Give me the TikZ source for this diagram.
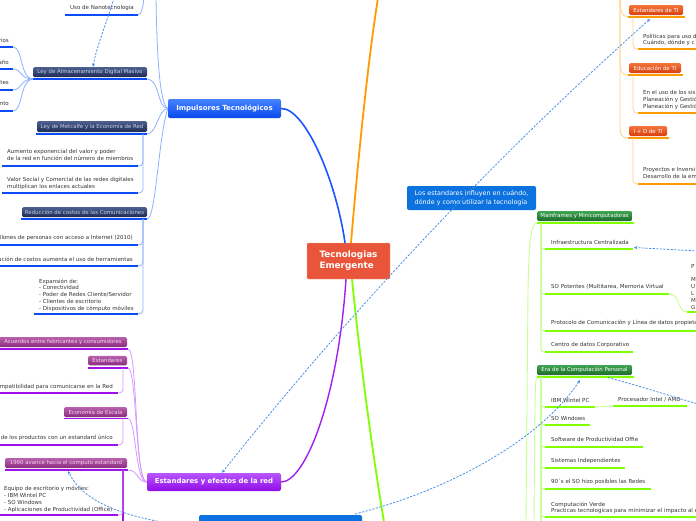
\documentclass[tikz,border=0pt]{standalone}
\usepackage{fontspec}
\setmainfont{DejaVu Sans}
\usetikzlibrary{arrows.meta}
\definecolor{txtc}{HTML}{333333}
\definecolor{cred}{HTML}{E8553A}
\definecolor{bmain}{HTML}{1A55FF}
\definecolor{blight}{HTML}{8CB0FF}
\definecolor{bulc}{HTML}{0A4CF5}
\definecolor{impT}{HTML}{4583FF}
\definecolor{impB}{HTML}{0A48EE}
\definecolor{navyT}{HTML}{4D6191}
\definecolor{navyB}{HTML}{1D2B52}
\definecolor{navyTx}{HTML}{C5CDE6}
\definecolor{omain}{HTML}{FF9A00}
\definecolor{olight}{HTML}{FFD088}
\definecolor{oT}{HTML}{F4743C}
\definecolor{oB}{HTML}{D8400E}
\definecolor{pmain}{HTML}{A01EF2}
\definecolor{plight}{HTML}{D49AFF}
\definecolor{pulc}{HTML}{A010E8}
\definecolor{estT}{HTML}{B855FF}
\definecolor{estB}{HTML}{900CE6}
\definecolor{mT}{HTML}{B861AC}
\definecolor{mB}{HTML}{8A2C7E}
\definecolor{mTx}{HTML}{F6D2F0}
\definecolor{gmain}{HTML}{80FF00}
\definecolor{glight}{HTML}{C6FF94}
\definecolor{gT}{HTML}{3FA552}
\definecolor{gB}{HTML}{1B6B2B}
\definecolor{notec}{HTML}{0B72E0}
\definecolor{dashc}{HTML}{4A90E2}
\newcommand{\mmfs}{\fontsize{5.5}{6.8}\selectfont}
\newcommand{\mmfb}{\fontsize{5.4}{6}\selectfont}
\newcommand{\mmul}[5]{\coordinate (#1-l) at (#2,#4); \coordinate (#1-r) at (#3,#4); \draw[#5] (#1-l) -- (#1-r);}
\begin{document}
\begin{tikzpicture}[x=1pt,y=-1pt,
  tx/.style={inner sep=0pt, text=txtc, font=\mmfs, anchor=west},
  txe/.style={inner sep=0pt, text=txtc, font=\mmfs, anchor=east},
  txm/.style={inner sep=0pt, text=txtc, font=\mmfs, anchor=north west, align=left},
  boxbase/.style={rounded corners=1.5pt, inner sep=0pt, font=\mmfb},
  navybox/.style={boxbase, top color=navyT, bottom color=navyB, text=navyTx},
  mauvebox/.style={boxbase, top color=mT, bottom color=mB, text=mTx},
  orangebox/.style={boxbase, top color=oT, bottom color=oB, text=white},
  greenbox/.style={boxbase, top color=gT, bottom color=gB, text=white},
  ulblue/.style={draw=bulc, line width=1.8pt},
  ulpurple/.style={draw=pulc, line width=1.8pt},
  ulorange/.style={draw=omain, line width=1.8pt},
  ulgreen/.style={draw=gmain, line width=1.8pt},
  cblue/.style={draw=blight, line width=0.8pt},
  cpurple/.style={draw=plight, line width=0.8pt},
  corange/.style={draw=olight, line width=0.8pt},
  cgreen/.style={draw=glight, line width=0.9pt},
  cgreenv/.style={draw=glight, line width=1.1pt, rounded corners=3pt},
  dashline/.style={draw=dashc, line width=0.8pt, dash pattern=on 2.2pt off 1.4pt},
  dashrel/.style={dashline, -{Stealth[length=3.5pt,width=3.2pt]}},
]
\useasboundingbox (0,0) rectangle (696,520);
\clip (0,0) rectangle (696,520);

% ---------- central node ----------
\node[draw=cred!55!white, fill=cred, rounded corners=1pt, minimum width=83pt, minimum height=36pt, inner sep=0pt, align=left, text=white, font=\bfseries\fontsize{8.8}{11}\selectfont] (root) at (348.5,261) {Tecnologias\\Emergente};

% ---------- main branches ----------
\node[boxbase, top color=impT, bottom color=impB, text=white, font=\bfseries\fontsize{7}{8}\selectfont, minimum width=113pt, minimum height=19pt, rounded corners=2pt] (imp) at (224.5,108.5) {Impulsores Tecnológicos};
\node[boxbase, top color=estT, bottom color=estB, text=white, font=\bfseries\fontsize{6.9}{8}\selectfont, minimum width=134pt, minimum height=18pt, rounded corners=2pt] (est) at (214,482) {Estandares y efectos de la red};
\coordinate (oUp) at (378,-2);
\coordinate (gDown) at (384,522);
\draw[line width=1.6pt, draw=bmain] (imp.east) .. controls (305,108) and (336,180) .. ([xshift=-3.5pt]root.north);
\draw[line width=1.8pt, draw=omain] ([xshift=2.5pt]root.north) .. controls (358,160) and (368,60) .. (oUp);
\draw[line width=1.4pt, draw=pmain] ([xshift=-2.5pt]root.south) .. controls (338,400) and (305,482) .. (est.east);
\draw[line width=1.8pt, draw=gmain] ([xshift=3.5pt]root.south) .. controls (360,360) and (372,450) .. (gDown);

% ---------- blue (Impulsores) ----------
\coordinate (impUp) at (156,-2);
\draw[cblue] (imp.west) .. controls (160,104) and (157,60) .. (impUp);
\node[tx] (nano) at (70,8) {Uso de Nanotecnologia};
\mmul{nanoU}{65}{138}{15}{ulblue}
\coordinate (nanoUp) at (144,-2);
\draw[cblue] (nanoU-r) .. controls (142,14) and (143,6) .. (nanoUp);

\node[navybox, minimum width=114pt, minimum height=10pt] (lam) at (90,72) {Ley de Almacenamiento Digital Masivo};
\mmul{lamU}{33}{147}{79}{ulblue}
\draw[cblue] (lamU-r) .. controls (160,79) and (157,108) .. (imp.west);
\node[txe] (l1t) at (9,40) {rios};
\node[txe] (l2t) at (9,62) {año};
\node[txe] (l3t) at (9,83) {tes};
\node[txe] (l4t) at (9,104) {nto};
\mmul{l1U}{-2}{13}{47}{ulblue}
\mmul{l2U}{-2}{13}{69}{ulblue}
\mmul{l3U}{-2}{13}{90}{ulblue}
\mmul{l4U}{-2}{13}{111}{ulblue}
\draw[cblue] (l1U-r) .. controls (23,47) and (20,79) .. (lamU-l);
\draw[cblue] (l2U-r) .. controls (22,69) and (20,79) .. (lamU-l);
\draw[cblue] (l3U-r) .. controls (22,90) and (20,79) .. (lamU-l);
\draw[cblue] (l4U-r) .. controls (23,111) and (20,79) .. (lamU-l);

\node[navybox, minimum width=110pt, minimum height=11pt] (met) at (92,126.5) {Ley de Metcalfe y la Economía de Red};
\mmul{metU}{36}{147}{134}{ulblue}
\draw[cblue] (metU-r) .. controls (157,134) and (158,109) .. (imp.west);
\node[txm] (m1t) at (7,149) {Aumento exponencial del valor y poder\\de la red en función del número de miembros};
\mmul{m1U}{2}{138}{166}{ulblue}
\node[txm] (m2t) at (7,177.5) {Valor Social y Comercial de las redes digitales\\multiplican los enlaces actuales};
\mmul{m2U}{2}{138}{193}{ulblue}
\coordinate (metV) at (143,134);
\draw[cblue, rounded corners=4pt] (metV) |- (m1U-r);
\draw[cblue, rounded corners=4pt] (metV) |- (m2U-r);

\node[navybox, minimum width=125pt, minimum height=10pt] (red) at (84.5,212) {Reducción de costos de las Comunicaciones};
\mmul{redU}{21}{147}{219}{ulblue}
\draw[cblue] (redU-r) .. controls (156,219) and (158,140) .. (imp.west);
\node[txe] (r1t) at (133,238) {llones de personas con acceso a Internet (2010)};
\mmul{r1U}{-2}{138}{245}{ulblue}
\node[txe] (r2t) at (133,259) {ución de costos aumenta el uso de herramientas};
\mmul{r2U}{-2}{138}{266}{ulblue}
\node[txm] (r3t) at (39,278.5) {Expansión de:\\- Conectividad\\- Poder de Redes Cliente/Servidor\\- Clientes de escritorio\\- Dispositivos de cómputo móviles};
\mmul{r3U}{34}{138}{314}{ulblue}
\coordinate (redV) at (143,219);
\draw[cblue, rounded corners=4pt] (redV) |- (r1U-r);
\draw[cblue, rounded corners=4pt] (redV) |- (r2U-r);
\draw[cblue, rounded corners=4pt] (redV) |- (r3U-r);

% ---------- purple (Estandares) ----------
\node[mauvebox, minimum width=128pt, minimum height=10pt] (acu) at (63,342) {Acuerdos entre fabricantes y consumidores};
\mmul{acuU}{-2}{128}{349}{ulpurple}
\draw[cpurple] (acuU-r) .. controls (138,349) and (134,482) .. (est.west);

\node[mauvebox, minimum width=39pt, minimum height=9.5pt] (estd) at (107.5,360.5) {Estandares};
\mmul{estdU}{88}{128}{368}{ulpurple}
\draw[cpurple] (estdU-r) .. controls (137,368) and (135,482) .. (est.west);
\node[txe] (e1t) at (113,387) {mpatibilidad para comunicarse en la Red};
\mmul{e1U}{-2}{118}{393}{ulpurple}
\coordinate (estdV) at (123,368);
\draw[cpurple, rounded corners=4pt] (estdV) |- (e1U-r);

\node[mauvebox, minimum width=63pt, minimum height=10pt] (eco) at (95.5,412) {Economía de Escala};
\mmul{ecoU}{64}{128}{418.5}{ulpurple}
\draw[cpurple] (ecoU-r) .. controls (136,418) and (135,482) .. (est.west);
\node[txe] (c1t) at (113,438) {de los productos con un estandard único};
\mmul{c1U}{-2}{118}{445}{ulpurple}
\coordinate (ecoV) at (123,418.5);
\draw[cpurple, rounded corners=4pt] (ecoV) |- (c1U-r);

\node[mauvebox, minimum width=122pt, minimum height=10pt] (ava) at (66,463) {1990 avance hacia el computo estandard};
\mmul{avaU}{5}{128}{470}{ulpurple}
\draw[cpurple] (avaU-r) .. controls (138,470) and (137,482) .. (est.west);
\node[txm] (a1t) at (4,486) {Equipo de escritorio y móviles:\\- IBM Wintel PC\\- SO Windows\\- Aplicaciones de Productividad (Office)};
\mmul{a1U}{-2}{118}{515}{ulpurple}
\coordinate (avaV) at (123,470);
\coordinate (avaDown) at (123,522);
\draw[draw=pulc, line width=1.8pt] (avaV) -- (avaDown);
\draw[cpurple, rounded corners=4pt] (avaV) |- (a1U-r);

% ---------- orange ----------
\coordinate (oV) at (620,-2);
\node[orangebox, minimum width=54pt, minimum height=10pt] (estti) at (656,10) {Estandares de TI};
\mmul{esttiU}{628}{685}{17}{ulorange}
\draw[corange] (oV) .. controls (620,10) and (622,17) .. (esttiU-l);
\node[txm] (o1t) at (643,33.5) {Políticas para uso d\\Cuándo, dónde y c};
\mmul{o1U}{638}{698}{49}{ulorange}
\coordinate (esttiV) at (633,17);
\draw[corange, rounded corners=4pt] (esttiV) |- (o1U-l);

\node[orangebox, minimum width=52pt, minimum height=10pt] (edu) at (655,68) {Educación de TI};
\mmul{eduU}{628}{683}{75}{ulorange}
\draw[corange] (oV) -- (620,62) .. controls (620,72) and (622,75) .. (eduU-l);
\node[txm] (o2t) at (643,90.5) {En el uso de los sis\\Planeación y Gestió\\Planeación y Gestió};
\mmul{o2U}{638}{698}{113}{ulorange}
\coordinate (eduV) at (633,75);
\draw[corange, rounded corners=4pt] (eduV) |- (o2U-l);

\node[orangebox, minimum width=38pt, minimum height=10pt] (imd) at (648,131) {I + D de TI};
\mmul{imdU}{628}{669}{138}{ulorange}
\draw[corange] (oV) -- (620,125) .. controls (620,135) and (622,138) .. (imdU-l);
\node[txm] (o3t) at (643,167.5) {Proyectos e Inversi\\Desarrollo de la em};
\mmul{o3U}{638}{698}{184}{ulorange}
\coordinate (imdV) at (633,138);
\draw[corange, rounded corners=4pt] (imdV) |- (o3U-l);

% ---------- green ----------
\node[greenbox, minimum width=95pt, minimum height=10pt] (mf) at (584.5,216) {Mainframes y Minicomputadoras};
\mmul{mfU}{537}{634}{223}{ulgreen}
\coordinate (gV1) at (526,522);
\draw[cgreen] (mfU-l) .. controls (530,224) and (529,245) .. (528,290) -- (gV1);
\coordinate (mfV) at (541,223);
\node[tx] (g1t) at (551,242) {Infraestructura Centralizada};
\mmul{g1U}{545}{633}{249}{ulgreen}
\node[tx] (g2t) at (551,287) {SO Potentes (Multitarea, Memoria Virtual};
\mmul{g2U}{545}{669}{294}{ulgreen}
\node[tx] (g3t) at (551,323) {Protocolo de Comunicación y Línea de datos propieta};
\mmul{g3U}{545}{698}{331}{ulgreen}
\node[tx] (g4t) at (551,345) {Centro de datos Corporativo};
\mmul{g4U}{545}{633}{352}{ulgreen}
\draw[cgreenv] (mfV) |- (g1U-l);
\draw[cgreenv] (mfV) |- (g2U-l);
\draw[cgreenv] (mfV) |- (g3U-l);
\draw[cgreenv] (mfV) |- (g4U-l);
\node[txm] (pt) at (691,264) {P\\[6.8pt]M\\U\\L\\M\\G};
\mmul{pU}{687}{698}{312}{ulgreen}
\draw[cgreen] (g2U-r) .. controls (681,294) and (677,312) .. (pU-l);

\node[greenbox, minimum width=95pt, minimum height=10pt] (era) at (584.5,370) {Era de la Computación Personal};
\mmul{eraU}{537}{634}{377}{ulgreen}
\coordinate (gV2) at (534,522);
\draw[cgreen] (eraU-l) .. controls (535,378) and (535,392) .. (gV2);
\coordinate (eraV) at (541,377);
\node[tx] (h1t) at (551,400) {IBM Wintel PC};
\mmul{h1U}{545}{595}{407}{ulgreen}
\node[tx] (h1bt) at (618,400) {Procesador Intel / AMD};
\mmul{h1bU}{613}{687}{406}{ulgreen}
\draw[cgreen] (h1U-r) -- (h1bU-l);
\node[tx] (h2t) at (551,418) {SO Windows};
\mmul{h2U}{545}{590}{425}{ulgreen}
\node[tx] (h3t) at (551,439) {Software de Productividad Offie};
\mmul{h3U}{545}{643}{447}{ulgreen}
\node[tx] (h4t) at (551,461) {Sistemas Independientes};
\mmul{h4U}{545}{625}{468}{ulgreen}
\node[tx] (h5t) at (551,482) {90´s el SO hizo posibles las Redes};
\mmul{h5U}{545}{651}{489}{ulgreen}
\node[txm] (h6t) at (551,501.5) {Computación Verde\\Practicas tecnologicas para minimizar el impacto al e};
\mmul{h6U}{545}{698}{517}{ulgreen}
\coordinate (eraDown) at (541,522);
\draw[cgreenv] (eraV) -- (eraDown);
\foreach \k in {h1U,h2U,h3U,h4U,h5U,h6U}{\draw[cgreenv] (eraV) |- (\k-l);}

% ---------- blue notes ----------
\node[fill=notec, rounded corners=2pt, minimum width=129pt, minimum height=24pt, inner sep=0pt, text=white, align=left, font=\fontsize{6.4}{9}\selectfont] (nt) at (471.5,198) {Los estandares influyen en cuándo,\\dónde y como utilizar la tecnología};
\node[fill=notec, rounded corners=2pt, minimum width=163pt, minimum height=20pt, inner sep=0pt] (bb) at (280.5,525) {};

% ---------- dashed relations ----------
\coordinate (dA) at (650,19);
\draw[dashline, {Stealth[length=3pt,width=3pt]}-{Stealth[length=3.5pt,width=3.2pt]}] (dA) .. controls (494,158) and (352,309) .. ([xshift=8pt]est.north);
\coordinate (bbR) at (355,514);
\coordinate (eraArr) at (580,380);
\draw[dashrel] (bbR) .. controls (450,490) and (540,440) .. (eraArr);
\coordinate (bbL) at (186,526);
\coordinate (avaArr) at (68,471);
\draw[dashrel] (bbL) .. controls (130,518) and (85,505) .. (avaArr);
\coordinate (eraTR) at (608,377.5);
\coordinate (eraOut) at (698,404);
\draw[dashline] (eraTR) .. controls (640,386) and (670,396) .. (eraOut);
\coordinate (infR) at (698,251);
\coordinate (infArr) at (634,247.5);
\draw[dashrel] (infR) -- (infArr);
\coordinate (nanoD) at (114,-2);
\draw[dashrel] (nanoD) .. controls (106,25) and (97,45) .. ([xshift=3pt]lam.north);
\end{tikzpicture}
\end{document}
